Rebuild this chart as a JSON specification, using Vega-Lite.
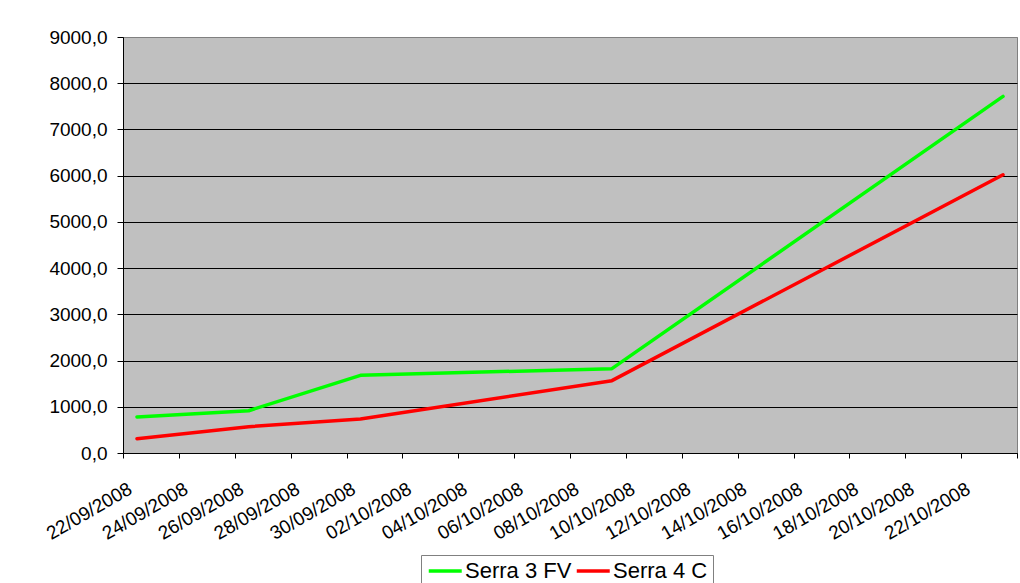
{
  "$schema": "https://vega.github.io/schema/vega-lite/v6.json",
  "autosize": "none",
  "width": 894,
  "height": 416,
  "padding": {"left": 123, "top": 37, "right": 3, "bottom": 130},
  "background": "white",
  "data": {
    "values": [
      {"date": "2008-09-22T00:00:00", "series": "Serra 3 FV", "value": 780},
      {"date": "2008-09-26T00:00:00", "series": "Serra 3 FV", "value": 915},
      {"date": "2008-09-30T00:00:00", "series": "Serra 3 FV", "value": 1680},
      {"date": "2008-10-09T00:00:00", "series": "Serra 3 FV", "value": 1825},
      {"date": "2008-10-23T00:00:00", "series": "Serra 3 FV", "value": 7715},
      {"date": "2008-09-22T00:00:00", "series": "Serra 4 C", "value": 310},
      {"date": "2008-09-26T00:00:00", "series": "Serra 4 C", "value": 570},
      {"date": "2008-09-30T00:00:00", "series": "Serra 4 C", "value": 735},
      {"date": "2008-10-09T00:00:00", "series": "Serra 4 C", "value": 1565},
      {"date": "2008-10-23T00:00:00", "series": "Serra 4 C", "value": 6020}
    ]
  },
  "mark": {"type": "line", "strokeWidth": 3.5, "strokeCap": "round", "strokeJoin": "round"},
  "encoding": {
    "x": {
      "field": "date",
      "type": "temporal",
      "timeUnit": "yearmonthdate",
      "bandPosition": 0.5,
      "scale": {"domain": [{"year": 2008, "month": 9, "date": 22}, {"year": 2008, "month": 10, "date": 24}]},
      "axis": {
        "title": null,
        "values": [
          {"year": 2008, "month": 9, "date": 22},
          {"year": 2008, "month": 9, "date": 24},
          {"year": 2008, "month": 9, "date": 26},
          {"year": 2008, "month": 9, "date": 28},
          {"year": 2008, "month": 9, "date": 30},
          {"year": 2008, "month": 10, "date": 2},
          {"year": 2008, "month": 10, "date": 4},
          {"year": 2008, "month": 10, "date": 6},
          {"year": 2008, "month": 10, "date": 8},
          {"year": 2008, "month": 10, "date": 10},
          {"year": 2008, "month": 10, "date": 12},
          {"year": 2008, "month": 10, "date": 14},
          {"year": 2008, "month": 10, "date": 16},
          {"year": 2008, "month": 10, "date": 18},
          {"year": 2008, "month": 10, "date": 20},
          {"year": 2008, "month": 10, "date": 22},
          {"year": 2008, "month": 10, "date": 24}
        ],
        "format": "%d/%m/%Y",
        "labelExpr": "datum.value >= datetime(2008, 9, 23) ? '' : datum.label",
        "labelAngle": -30,
        "labelAlign": "right",
        "labelBaseline": "middle",
        "labelOffset": 7,
        "labelPadding": 29,
        "labelOverlap": false,
        "labelBound": false,
        "labelFlush": false,
        "grid": false,
        "tickSize": 5,
        "tickColor": "black",
        "domainColor": "black"
      }
    },
    "y": {
      "field": "value",
      "type": "quantitative",
      "scale": {"domain": [0, 9000], "nice": false},
      "axis": {
        "title": null,
        "values": [0, 1000, 2000, 3000, 4000, 5000, 6000, 7000, 8000, 9000],
        "labelExpr": "replace(format(datum.value, '.1f'), '.', ',')",
        "labelPadding": 10,
        "tickSize": 6,
        "tickColor": "black",
        "domainColor": "black",
        "grid": true,
        "gridColor": {"condition": {"test": "datum.value === 9000", "value": "#808080"}, "value": "black"},
        "gridOpacity": 1,
        "gridWidth": 1
      }
    },
    "color": {
      "field": "series",
      "type": "nominal",
      "scale": {"domain": ["Serra 3 FV", "Serra 4 C"], "range": ["#00FF00", "#FF0000"]},
      "legend": {
        "title": null,
        "orient": "none",
        "legendX": 298,
        "legendY": 518,
        "direction": "horizontal",
        "symbolType": "M-1,0H3",
        "symbolStrokeWidth": 3.5,
        "symbolSize": 272,
        "labelFontSize": 22,
        "labelOffset": 17,
        "columnPadding": -3,
        "padding": 5,
        "strokeColor": "#808080",
        "fillColor": "white",
        "labelColor": "black"
      }
    }
  },
  "config": {
    "font": "Liberation Sans",
    "view": {"fill": "#C0C0C0", "stroke": "#808080", "strokeWidth": 1},
    "axis": {"labelFont": "Liberation Sans", "labelFontSize": 19, "labelColor": "black", "domainWidth": 1, "tickWidth": 1},
    "legend": {"labelFont": "Liberation Sans"}
  }
}
